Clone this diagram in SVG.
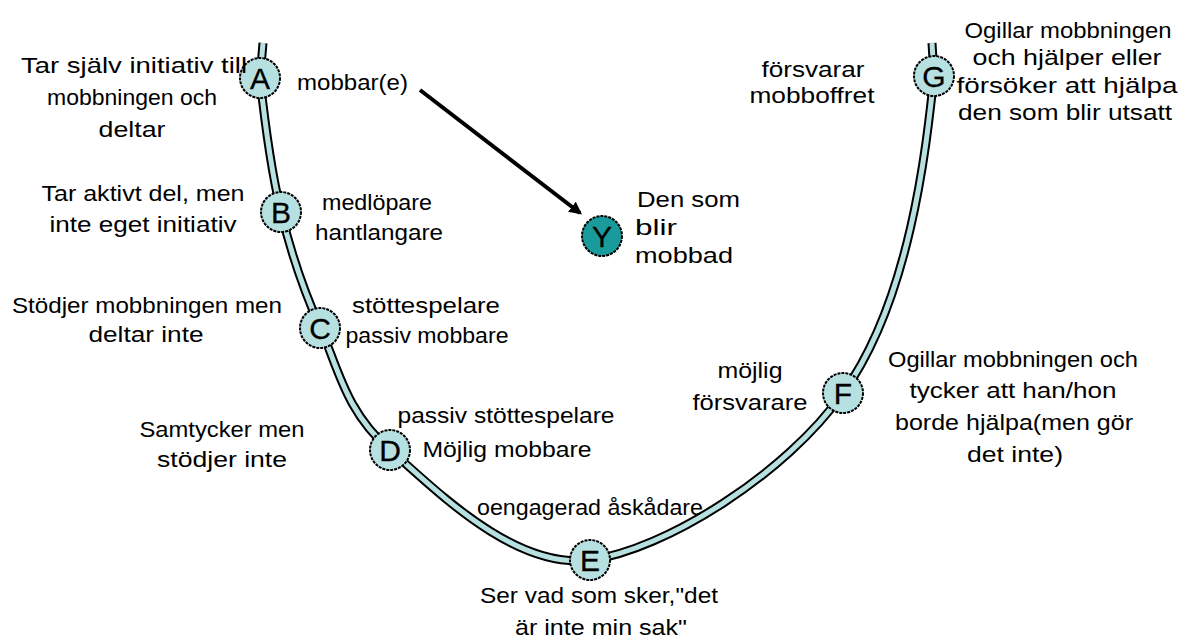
<svg xmlns="http://www.w3.org/2000/svg" width="1182" height="640" viewBox="0 0 1182 640">
<style>
.t{font-family:"Liberation Sans","DejaVu Sans",sans-serif;font-size:22px;fill:#000}
.m{text-anchor:middle}
.n{fill:#b7e1e1;stroke:#000;stroke-width:2;stroke-dasharray:3 1}
.ny{fill:#1a9b9b;stroke:#000;stroke-width:2;stroke-dasharray:3 1}
.l{font-family:"Liberation Sans","DejaVu Sans",sans-serif;font-size:30px;text-anchor:middle;fill:#000;stroke:#000;stroke-width:0.3}
</style>
<defs>
<marker id="ah" viewBox="0 0 10 10" refX="8" refY="5" markerWidth="3.2" markerHeight="3.2" orient="auto" markerUnits="strokeWidth">
<path d="M0,0 L10,5 L0,10 z" fill="#000"/>
</marker>
</defs>
<rect width="1182" height="640" fill="#fff"/>
<g id="connectors">
<path id="curve-outline" d="M263 43 L260 78 C263 106 271 170 281 212 C291 253 302 287 320 327 C338 367 345 411 390 450 C435 489 514 570 590 560 C665 550 786 474 843 393 C910 300 926 150 934 76 L932 43" fill="none" stroke="#000" stroke-width="9" stroke-linejoin="round"/>
<path id="curve" d="M263 43 L260 78 C263 106 271 170 281 212 C291 253 302 287 320 327 C338 367 345 411 390 450 C435 489 514 570 590 560 C665 550 786 474 843 393 C910 300 926 150 934 76 L932 43" fill="none" stroke="#b7e1e1" stroke-width="5" stroke-linejoin="round"/>
<line id="arrow" x1="420" y1="90" x2="580" y2="213" stroke="#000" stroke-width="4" marker-end="url(#ah)"/>
</g>
<g id="node-A"><circle class="n" cx="260" cy="78" r="20"/><text class="l" x="260" y="89">A</text></g>
<g id="node-B"><circle class="n" cx="281" cy="212" r="20"/><text class="l" x="281" y="223">B</text></g>
<g id="node-C"><circle class="n" cx="320" cy="328" r="20"/><text class="l" x="320" y="339">C</text></g>
<g id="node-D"><circle class="n" cx="390" cy="450" r="20"/><text class="l" x="390" y="461">D</text></g>
<g id="node-E"><circle class="n" cx="590" cy="560" r="20"/><text class="l" x="590" y="571">E</text></g>
<g id="node-F"><circle class="n" cx="843" cy="393" r="20"/><text class="l" x="843" y="404">F</text></g>
<g id="node-G"><circle class="n" cx="934" cy="76" r="20"/><text class="l" x="934" y="87">G</text></g>
<g id="node-Y"><circle class="ny" cx="602" cy="236" r="20"/><text class="l" x="602" y="247">Y</text></g>
<g id="labels-A">
<text class="t m" x="134" y="73" textLength="226" lengthAdjust="spacingAndGlyphs">Tar själv initiativ till</text>
<text class="t m" x="132" y="105" textLength="170" lengthAdjust="spacingAndGlyphs">mobbningen och</text>
<text class="t m" x="132" y="137" textLength="67" lengthAdjust="spacingAndGlyphs">deltar</text>
<text class="t" x="297" y="90" textLength="111" lengthAdjust="spacingAndGlyphs">mobbar(e)</text>
</g>
<g id="labels-B">
<text class="t m" x="143" y="201" textLength="203" lengthAdjust="spacingAndGlyphs">Tar aktivt del, men</text>
<text class="t m" x="143" y="232" textLength="187" lengthAdjust="spacingAndGlyphs">inte eget initiativ</text>
<text class="t m" x="377" y="210" textLength="110" lengthAdjust="spacingAndGlyphs">medlöpare</text>
<text class="t m" x="379" y="240" textLength="128" lengthAdjust="spacingAndGlyphs">hantlangare</text>
</g>
<g id="labels-C">
<text class="t m" x="147" y="313" textLength="270" lengthAdjust="spacingAndGlyphs">Stödjer mobbningen men</text>
<text class="t m" x="146" y="342" textLength="115" lengthAdjust="spacingAndGlyphs">deltar inte</text>
<text class="t m" x="426" y="313" textLength="148" lengthAdjust="spacingAndGlyphs">stöttespelare</text>
<text class="t m" x="427" y="343" textLength="163" lengthAdjust="spacingAndGlyphs">passiv mobbare</text>
</g>
<g id="labels-D">
<text class="t m" x="222" y="437" textLength="165" lengthAdjust="spacingAndGlyphs">Samtycker men</text>
<text class="t m" x="222" y="467" textLength="130" lengthAdjust="spacingAndGlyphs">stödjer inte</text>
<text class="t m" x="506" y="423" textLength="217" lengthAdjust="spacingAndGlyphs">passiv stöttespelare</text>
<text class="t m" x="507" y="457" textLength="169" lengthAdjust="spacingAndGlyphs">Möjlig mobbare</text>
</g>
<g id="labels-E">
<text class="t m" x="590" y="515" textLength="226" lengthAdjust="spacingAndGlyphs">oengagerad åskådare</text>
<text class="t m" x="599" y="603" textLength="238" lengthAdjust="spacingAndGlyphs">Ser vad som sker,"det</text>
<text class="t m" x="601" y="635" textLength="172" lengthAdjust="spacingAndGlyphs">är inte min sak"</text>
</g>
<g id="labels-F">
<text class="t m" x="750" y="378" textLength="65" lengthAdjust="spacingAndGlyphs">möjlig</text>
<text class="t m" x="750" y="410" textLength="115" lengthAdjust="spacingAndGlyphs">försvarare</text>
<text class="t m" x="1013" y="367" textLength="250" lengthAdjust="spacingAndGlyphs">Ogillar mobbningen och</text>
<text class="t m" x="1013" y="398" textLength="207" lengthAdjust="spacingAndGlyphs">tycker att han/hon</text>
<text class="t m" x="1014" y="430" textLength="238" lengthAdjust="spacingAndGlyphs">borde hjälpa(men gör</text>
<text class="t m" x="1015" y="462" textLength="96" lengthAdjust="spacingAndGlyphs">det inte)</text>
</g>
<g id="labels-G">
<text class="t m" x="813" y="77" textLength="103" lengthAdjust="spacingAndGlyphs">försvarar</text>
<text class="t m" x="812" y="103" textLength="125" lengthAdjust="spacingAndGlyphs">mobboffret</text>
<text class="t m" x="1068" y="38" textLength="207" lengthAdjust="spacingAndGlyphs">Ogillar mobbningen</text>
<text class="t m" x="1067" y="65" textLength="189" lengthAdjust="spacingAndGlyphs">och hjälper eller</text>
<text class="t m" x="1067" y="93" textLength="221" lengthAdjust="spacingAndGlyphs">försöker att hjälpa</text>
<text class="t m" x="1065" y="120" textLength="214" lengthAdjust="spacingAndGlyphs">den som blir utsatt</text>
</g>
<g id="labels-Y">
<text class="t" x="637" y="207" textLength="103" lengthAdjust="spacingAndGlyphs">Den som</text>
<text class="t" x="635" y="235" textLength="42" lengthAdjust="spacingAndGlyphs">blir</text>
<text class="t" x="635" y="263" textLength="98" lengthAdjust="spacingAndGlyphs">mobbad</text>
</g>
</svg>
